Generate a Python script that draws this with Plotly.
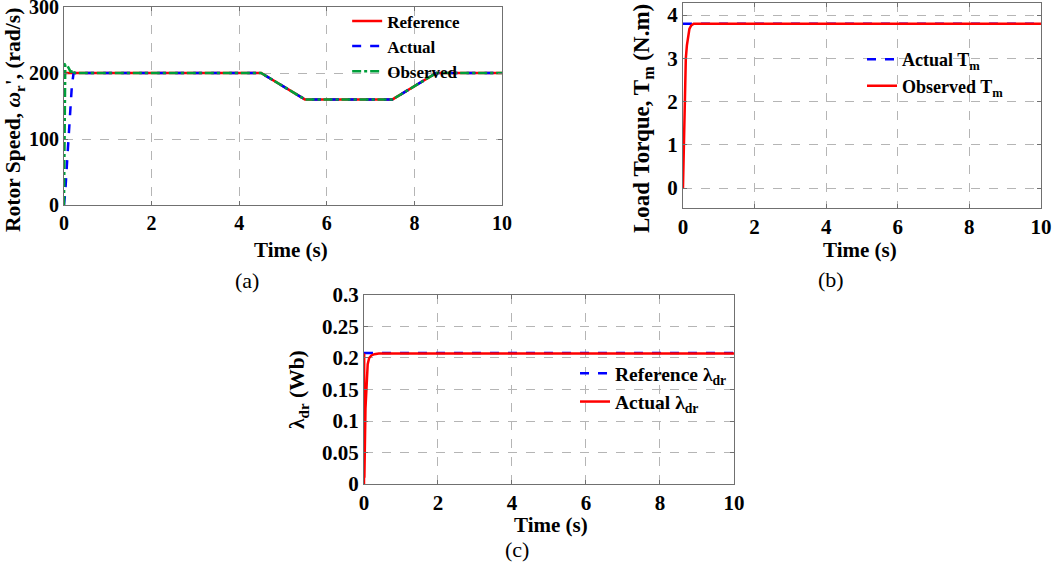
import plotly.graph_objects as go

# (a) rotor speed, rad/s
t_ref_a = [0, 4.5, 5.5, 7.5, 8.5, 10]
w_ref = [200, 200, 160, 160, 200, 200]
t_act_a = [0, 0.03, 0.08, 0.13, 0.18, 0.22, 0.26, 4.5, 5.5, 7.5, 8.5, 10]
w_act = [0, 20, 75, 130, 180, 200, 200, 200, 160, 160, 200, 200]
t_obs_a = [0, 0.01, 0.03, 0.07, 0.12, 0.16, 0.19, 0.22, 0.26, 4.5, 5.5, 7.5, 8.5, 10]
w_obs = [0, 150, 213, 212, 205, 201, 205, 201, 200, 200, 160, 160, 200, 200]

# (b) load torque, N.m
t_act_b = [0, 10]
tm_act = [3.8, 3.8]
t_obs_b = [0, 0.03, 0.05, 0.08, 0.11, 0.14, 0.18, 0.23, 0.3, 10]
tm_obs = [0, 1.0, 2.0, 3.0, 3.3, 3.5, 3.68, 3.76, 3.8, 3.8]

# (c) rotor flux, Wb
t_ref_c = [0, 10]
lam_ref = [0.208, 0.208]
t_act_c = [0, 0.005, 0.01, 0.04, 0.07, 0.1, 0.14, 0.2, 0.28, 0.4, 10]
lam_act = [0, 0.207, 0.01, 0.12, 0.17, 0.19, 0.2, 0.204, 0.206, 0.207, 0.207]

x_ticks = [0, 2, 4, 6, 8, 10]

FONT = "Liberation Serif"
RED = "#ff0000"
BLUE = "#0000ff"
GREEN = "#009e3a"
FRAME = "#707070"
GRID = "#b5b5b5"

traces = [
    go.Scatter(x=t_ref_a, y=w_ref, mode="lines", name="Reference", legend="legend",
               line=dict(color=RED, width=2.5), xaxis="x", yaxis="y"),
    go.Scatter(x=t_act_a, y=w_act, mode="lines", name="Actual", legend="legend",
               line=dict(color=BLUE, width=2.5, dash="dash"), xaxis="x", yaxis="y"),
    go.Scatter(x=t_obs_a, y=w_obs, mode="lines", name="Observed", legend="legend",
               line=dict(color=GREEN, width=2.5, dash="dashdot"), xaxis="x", yaxis="y"),
    go.Scatter(x=t_act_b, y=tm_act, mode="lines", name="Actual T<sub>m</sub>", legend="legend2",
               line=dict(color=BLUE, width=2.5, dash="dash"), xaxis="x2", yaxis="y2"),
    go.Scatter(x=t_obs_b, y=tm_obs, mode="lines", name="Observed T<sub>m</sub>", legend="legend2",
               line=dict(color=RED, width=2.5), xaxis="x2", yaxis="y2"),
    go.Scatter(x=t_ref_c, y=lam_ref, mode="lines", name="Reference λ<sub>dr</sub>", legend="legend3",
               line=dict(color=BLUE, width=2.5, dash="dash"), xaxis="x3", yaxis="y3"),
    go.Scatter(x=t_act_c, y=lam_act, mode="lines", name="Actual λ<sub>dr</sub>", legend="legend3",
               line=dict(color=RED, width=2.5), xaxis="x3", yaxis="y3"),
]


def bold(size):
    return dict(family=FONT, size=size, color="black", weight="bold")


def axis(tick_size, **kw):
    base = dict(showline=True, linecolor=FRAME, linewidth=1, mirror="ticks",
                ticks="inside", ticklen=4, tickcolor=FRAME,
                showgrid=True, gridcolor=GRID, griddash="dash", gridwidth=1,
                zeroline=False, tickfont=bold(tick_size), automargin=False,
                ticklabeloverflow="allow")
    base.update(kw)
    return base


def legend_box(x, y, size):
    return dict(x=x, y=y, xanchor="left", yanchor="top", bgcolor="rgba(0,0,0,0)",
                borderwidth=0, font=bold(size), itemwidth=30, tracegroupgap=0)


def label(text, px, py, font, angle=0):
    # text placed by pixel position on the 1052x564 page
    return dict(text=text, x=px / 1052, y=1 - py / 564, xref="paper", yref="paper",
                xanchor="center", yanchor="middle", showarrow=False,
                textangle=angle, font=font)


layout = go.Layout(
    width=1052, height=564,
    margin=dict(l=0, r=0, t=0, b=0),
    paper_bgcolor="white", plot_bgcolor="white",
    showlegend=True,
    xaxis=axis(20, domain=[0.0608, 0.4772], anchor="y", range=[0, 10], tickvals=x_ticks),
    yaxis=axis(20, domain=[0.6365, 0.9876], anchor="x", range=[0, 300], dtick=100),
    xaxis2=axis(21, domain=[0.6492, 0.9895], anchor="y2", range=[0, 10], tickvals=x_ticks),
    yaxis2=axis(21, domain=[0.6312, 0.9947], anchor="x2", range=[-0.46, 4.28], tickvals=[0, 1, 2, 3, 4]),
    xaxis3=axis(21, domain=[0.346, 0.6977], anchor="y3", range=[0, 10], tickvals=x_ticks),
    yaxis3=axis(21, domain=[0.1418, 0.4770], anchor="x3", range=[0, 0.3], dtick=0.05),
    legend=legend_box(0.33, 0.994, 17),
    legend2=legend_box(0.8194, 0.927, 18),
    legend3=legend_box(0.5466, 0.3723, 19.5),
    annotations=[
        label("Rotor Speed, <i>ω</i><sub>r</sub>', (rad/s)", 15, 120, bold(21.5), -90),
        label("Time (s)", 291, 250, bold(21)),
        label("(a)", 247, 280, dict(family=FONT, size=22, color="black")),
        label("Load Torque, T<sub>m</sub> (N.m)", 643, 119, bold(23), -90),
        label("Time (s)", 860, 250, bold(21)),
        label("(b)", 831, 279, dict(family=FONT, size=22, color="black")),
        label("λ<sub>dr</sub> (Wb)", 298, 390, bold(21.5), -90),
        label("Time (s)", 551, 525, bold(21)),
        label("(c)", 517, 549, dict(family=FONT, size=22, color="black")),
    ],
)

fig = go.Figure(data=traces, layout=layout)
# drop the browser's default 8px body margin so the figure sits at the page corner
fig.write_html("out.html", config={"displayModeBar": False},
               post_script="document.body.style.margin = '0px';")
